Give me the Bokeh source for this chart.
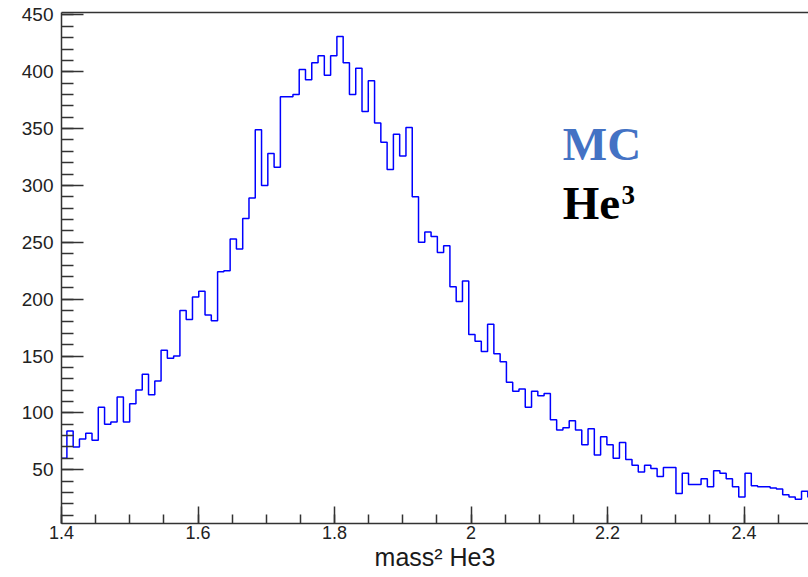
from bokeh.plotting import figure
from bokeh.models import (Range1d, FixedTicker, SingleIntervalTicker, CustomJSTickFormatter,
                          LinearAxis, Label)
from bokeh.embed import file_html
from bokeh.resources import INLINE

# ---- data ----
counts = [60, 84, 70, 77, 82, 76, 105, 90, 92, 114,
          92, 108, 120, 134, 116, 128, 155, 148, 150, 190,
          182, 202, 207, 186, 181, 224, 225, 253, 244, 271,
          289, 349, 300, 328, 316, 378, 378, 380, 402, 393,
          408, 414, 397, 414, 431, 408, 380, 403, 365, 392,
          355, 338, 314, 345, 326, 351, 290, 250, 259, 255,
          241, 247, 211, 198, 216, 169, 163, 154, 178, 152,
          145, 127, 119, 121, 105, 119, 115, 117, 94, 85,
          87, 93, 85, 72, 86, 63, 79, 72, 60, 74,
          59, 54, 48, 54, 51, 44, 52, 52, 29, 47,
          37, 37, 42, 35, 49, 47, 42, 35, 26, 47,
          36, 35, 35, 34, 33, 28, 26, 24, 31, 26]
bin_lo = 1.3987
bin_width = 0.0092

x_major = [1.4, 1.6, 1.8, 2.0, 2.2, 2.4]
x_minor = [1.4 + 0.05 * i for i in range(23)]
x_title = "mass\u00b2 He3"
label_mc = "MC"
label_he = "He"
label_sup = "3"

# ---- layout constants ----
W, H = 808, 577
left, top, bottom = 61, 12, 523
x0, x1 = 1.4, 1.4 + (W - left) / 682.5
y0, y1 = 2.7, 452.1

def px_x(px):
    return x0 + (px - left) * (x1 - x0) / (W - left)

def px_y(py):
    return y1 - (py - top) * (y1 - y0) / (bottom - top)

edges = [bin_lo + i * bin_width for i in range(len(counts) + 1)]
ys = counts + [counts[-1]]

p = figure(width=W, height=H, output_backend="svg", toolbar_location=None,
           x_range=Range1d(x0, x1), y_range=Range1d(y0, y1),
           min_border_left=left, min_border_right=0, min_border_top=top,
           min_border_bottom=H - bottom)
p.outline_line_color = None
p.grid.visible = False
p.background_fill_color = "white"
p.border_fill_color = "white"

p.step(edges, ys, mode="after", line_color="#0000ff", line_width=1.5)

axis_col = "#333333"
fnt = "Liberation Sans"

xa = p.xaxis[0]
xa.ticker = FixedTicker(ticks=x_major, minor_ticks=x_minor)
xa.formatter = CustomJSTickFormatter(code="return (Math.round(tick*1000)/1000).toString();")
xa.major_tick_in = 17
xa.major_tick_out = 0
xa.minor_tick_in = 9
xa.minor_tick_out = 0
xa.major_label_standoff = 2
xa.axis_label = x_title
xa.axis_label_text_font = fnt
xa.axis_label_text_font_size = "25px"
xa.axis_label_text_font_style = "normal"
xa.axis_label_text_color = "#1a1a1a"
xa.axis_label_standoff = 1
ya = p.yaxis[0]
ya.ticker = SingleIntervalTicker(interval=50, num_minor_ticks=5)
ya.major_tick_in = 22
ya.major_tick_out = 0
ya.minor_tick_in = 12
ya.minor_tick_out = 0
ya.major_label_standoff = 8
for ax in (xa, ya):
    ax.axis_line_color = axis_col
    ax.axis_line_width = 1.5
    ax.major_tick_line_color = axis_col
    ax.major_tick_line_width = 1.5
    ax.minor_tick_line_color = axis_col
    ax.minor_tick_line_width = 1.5
    ax.major_label_text_font = fnt
    ax.major_label_text_font_size = "19px"
    ax.major_label_text_color = "#222222"
xa.major_label_text_font_size = "18px"

top_axis = LinearAxis(ticker=FixedTicker(ticks=[]), major_label_text_font_size="0px",
                      axis_line_color=axis_col, axis_line_width=1.5,
                      major_tick_in=0, major_tick_out=0, minor_tick_in=0, minor_tick_out=0)
p.add_layout(top_axis, "above")

serif = "Liberation Serif"
p.add_layout(Label(x=px_x(562.3), y=px_y(143), text=label_mc, text_font=serif,
                   text_font_style="bold", text_font_size="47px", text_color="#4472C4",
                   text_baseline="alphabetic"))
p.add_layout(Label(x=px_x(562.3), y=px_y(202), text=label_he, text_font=serif,
                   text_font_style="bold", text_font_size="47px", text_color="#000000",
                   text_baseline="alphabetic"))
p.add_layout(Label(x=px_x(621), y=px_y(194), text=label_sup, text_font=serif,
                   text_font_style="bold", text_font_size="27px", text_color="#000000",
                   text_baseline="alphabetic"))

open("out.html", "w").write(file_html(p, INLINE))
